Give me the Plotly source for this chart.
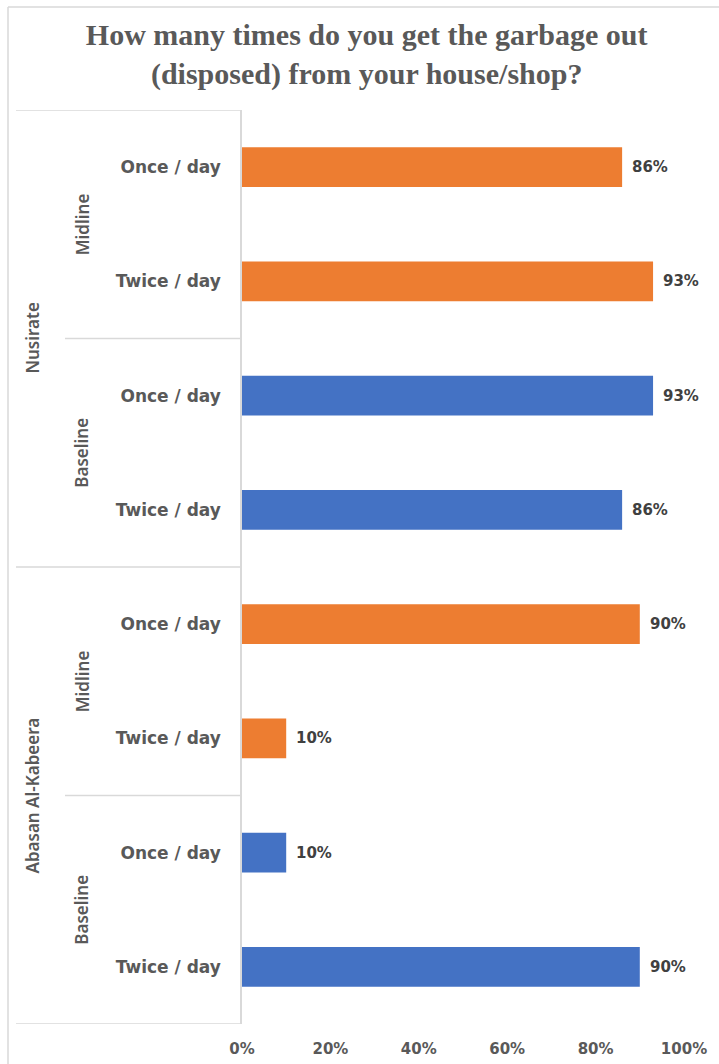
import plotly.graph_objects as go

# ---- data ----
locations = ["Nusirate", "Nusirate", "Nusirate", "Nusirate",
             "Abasan Al-Kabeera", "Abasan Al-Kabeera", "Abasan Al-Kabeera", "Abasan Al-Kabeera"]
phases = ["Midline", "Midline", "Baseline", "Baseline",
          "Midline", "Midline", "Baseline", "Baseline"]
frequencies = ["Once / day", "Twice / day", "Once / day", "Twice / day",
               "Once / day", "Twice / day", "Once / day", "Twice / day"]
values = [0.86, 0.93, 0.93, 0.86, 0.90, 0.10, 0.10, 0.90]
x_ticks = [0, 0.2, 0.4, 0.6, 0.8, 1.0]
x_tick_labels = ["0%", "20%", "40%", "60%", "80%", "100%"]
title_text = "How many times do you get the garbage out<br>(disposed) from your house/shop?"

phase_colors = {"Midline": "#ED7D31", "Baseline": "#4472C4"}

W, H = 719, 1064
L, R, T, B = 242, 35, 110, 40
pw = W - L - R
ph = H - T - B

def px_x(px):
    return (px - L) / pw

def px_y(py):
    return (H - B - py) / ph

rows = list(range(len(values)))

fig = go.Figure()
for phase in ["Midline", "Baseline"]:
    idx = [i for i in rows if phases[i] == phase]
    fig.add_trace(go.Bar(
        x=[values[i] for i in idx],
        y=idx,
        orientation="h",
        width=0.35,
        marker=dict(color=phase_colors[phase], line=dict(width=0)),
        name=phase,
        showlegend=False,
        hoverinfo="x",
    ))

annotations = []
# data labels
for i in rows:
    annotations.append(dict(
        x=values[i], y=i, xref="x", yref="y",
        text=f"{round(values[i]*100)}%", showarrow=False,
        xanchor="left", yanchor="middle", xshift=8,
        font=dict(family="DejaVu Sans", size=15, color="#404040", weight="bold"),
    ))

label_font = dict(family="Noto Sans", size=17, color="#595959", weight=600)

# phase labels (level 2)
seen = []
for i in rows:
    key = (locations[i], phases[i])
    if key in seen:
        continue
    seen.append(key)
    members = [j for j in rows if (locations[j], phases[j]) == key]
    yc = sum(members) / len(members)
    annotations.append(dict(
        x=px_x(82), y=yc, xref="paper", yref="y", text=phases[i],
        showarrow=False, textangle=-90, xanchor="center", yanchor="middle",
        font=label_font,
    ))

# location labels (level 1)
locs_seen = []
for i in rows:
    if locations[i] in locs_seen:
        continue
    locs_seen.append(locations[i])
    members = [j for j in rows if locations[j] == locations[i]]
    yc = sum(members) / len(members)
    annotations.append(dict(
        x=px_x(32), y=yc, xref="paper", yref="y", text=locations[i],
        showarrow=False, textangle=-90, xanchor="center", yanchor="middle",
        font=label_font,
    ))

shapes = []
line_col = "#D9D9D9"
n = len(rows)
for b in range(n + 1):
    yb = b - 0.5
    if b == 0 or b == n or locations[b - 1] != locations[b]:
        x0 = px_x(16)
    elif phases[b - 1] != phases[b]:
        x0 = px_x(65)
    else:
        continue
    shapes.append(dict(type="line", xref="paper", yref="y", x0=x0, x1=0,
                       y0=yb, y1=yb, line=dict(color=line_col, width=1.5)))
# outer chart frame (left + top)
shapes.append(dict(type="line", xref="paper", yref="paper",
                   x0=px_x(8), x1=px_x(8), y0=px_y(7), y1=px_y(H + 5),
                   line=dict(color=line_col, width=1.5)))
shapes.append(dict(type="line", xref="paper", yref="paper",
                   x0=px_x(8), x1=px_x(W + 5), y0=px_y(7), y1=px_y(7),
                   line=dict(color=line_col, width=1.5)))

fig.update_layout(
    width=W, height=H,
    margin=dict(l=L, r=R, t=T, b=B, autoexpand=False),
    paper_bgcolor="white", plot_bgcolor="white",
    barmode="overlay",
    title=dict(text=title_text, x=0.51, xanchor="center",
               y=1 - 45 / H, yanchor="middle", yref="container",
               font=dict(family="Liberation Serif", size=30, color="#595959", weight="bold")),
    xaxis=dict(range=[0, 1], tickvals=x_ticks, ticktext=x_tick_labels,
               showgrid=False, zeroline=False, showline=False, ticks="",
               ticklabelstandoff=14,
               tickfont=dict(family="DejaVu Sans", size=15, color="#595959", weight="bold"),
               fixedrange=True),
    yaxis=dict(range=[n - 0.5, -0.5], tickvals=rows, ticktext=frequencies,
               showgrid=False, zeroline=False, showline=True, linecolor=line_col,
               linewidth=1.5, ticks="", ticklabelstandoff=16,
               tickfont=dict(family="DejaVu Sans", size=17, color="#595959", weight="bold"),
               fixedrange=True),
    annotations=annotations,
    shapes=shapes,
)

fig.write_html("out.html", config={"displayModeBar": False},
               post_script="document.body.style.margin='0';document.body.style.overflow='hidden';")
